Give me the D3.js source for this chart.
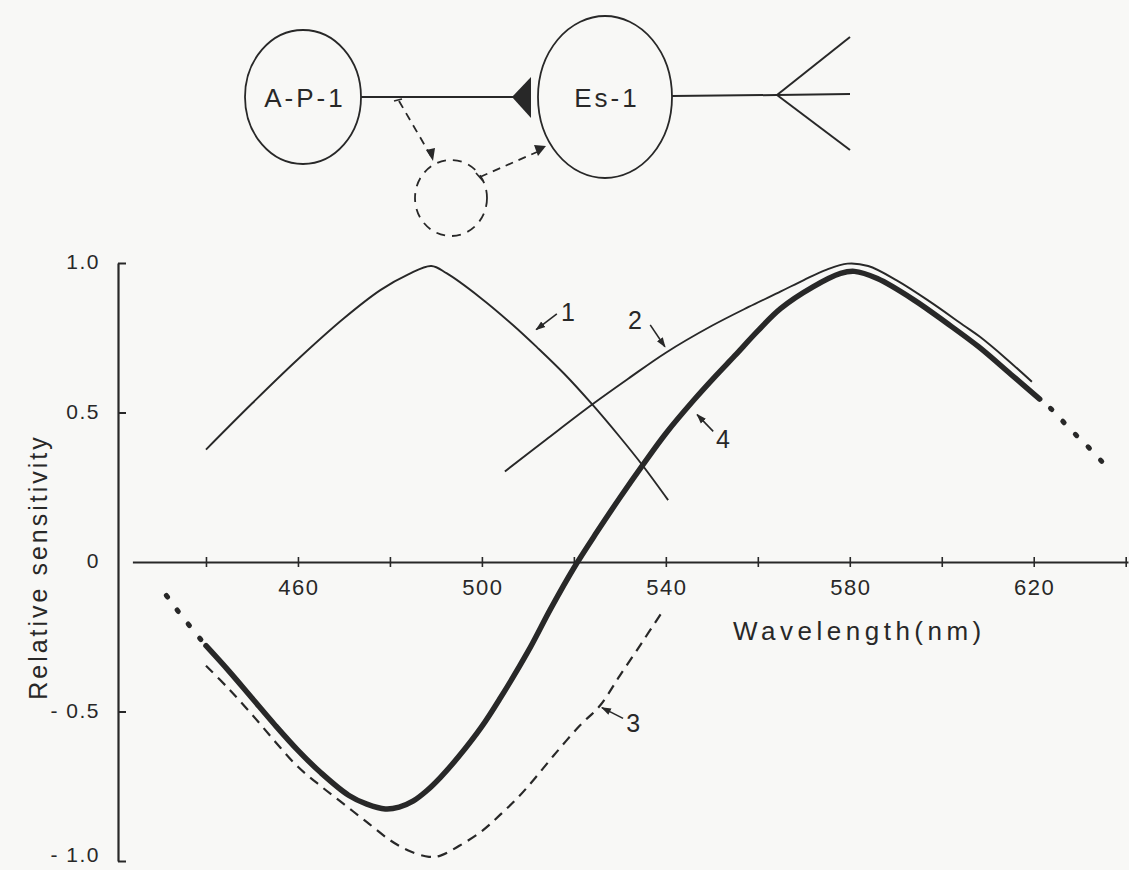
<!DOCTYPE html>
<html>
<head>
<meta charset="utf-8">
<script src="https://cdn.jsdelivr.net/npm/d3@7"></script>
<style>
  html, body { margin: 0; padding: 0; background: #f8f8f6; }
  svg { display: block; }
</style>
</head>
<body>
<svg id="fig" width="1129" height="870"></svg>
<script>
// Spectral sensitivity curves (wavelength in nm, relative sensitivity)
const curve1 = [[440,0.376],[450,0.53],[460,0.678],[470,0.815],[478,0.91],[484,0.962],[489,0.99],[492.3,0.966],[499.6,0.885],[506.8,0.792],[512,0.718],[518,0.628],[524,0.527],[530,0.418],[535,0.322],[540.5,0.207]];
const curve2 = [[505,0.303],[514,0.41],[523.9,0.526],[532,0.615],[540,0.70],[550,0.79],[558,0.853],[565,0.905],[570,0.943],[575,0.978],[579.5,0.998],[584,0.99],[590.2,0.942],[597.5,0.870],[604.7,0.792],[608.3,0.753],[614,0.68],[619.6,0.603]];
const curve3 = [[440,-0.347],[445,-0.425],[450,-0.51],[455,-0.6],[460,-0.685],[465,-0.75],[470,-0.81],[475,-0.87],[480,-0.93],[484,-0.965],[488.5,-0.986],[491,-0.982],[495,-0.95],[500,-0.9],[504,-0.845],[508,-0.785],[511.5,-0.724],[516,-0.64],[521.3,-0.547],[525.7,-0.48],[530,-0.38],[535,-0.265],[539.1,-0.169]];
const curve4 = [[440,-0.28],[445,-0.365],[450,-0.455],[455,-0.545],[460,-0.63],[465,-0.705],[471,-0.78],[475,-0.81],[479,-0.826],[482,-0.82],[485,-0.8],[488,-0.765],[491,-0.72],[495,-0.65],[500,-0.55],[504,-0.455],[510,-0.30],[515,-0.155],[520,-0.02],[525,0.1],[530,0.215],[535,0.325],[540,0.43],[546,0.54],[551,0.625],[555,0.69],[560,0.773],[565,0.848],[572,0.92],[578,0.965],[581,0.972],[586,0.948],[594,0.876],[601,0.80],[608,0.72],[615,0.628],[621.3,0.545]];
// extrapolated ends of curve 4, drawn dotted
const curve4TailLeft = [[429.6,-0.074],[434.7,-0.18],[440,-0.28]];
const curve4TailRight = [[621.3,0.545],[624,0.509],[627.2,0.456],[630.1,0.411],[632.6,0.373],[635.1,0.331]];

// axis ticks and labels
const xTickValues = [440,460,480,500,520,540,560,580,600,620,640];
const xLabelValues = [460,500,540,580,620];
const yTickValues = [1,0.5,-0.5,-1];
const yLabelValues = [1,0.5,0,-0.5,-1];
const yLabelText = ["1.0","0.5","0","- 0.5","- 1.0"];

// curve number labels with their pointer arrows (wavelength, value)
const curveLabels = [
  {text:"1", at:[518.7,0.835], from:[516.3,0.83], to:[511.8,0.777]},
  {text:"2", at:[533.3,0.81], from:[536.6,0.793], to:[539.8,0.72]},
  {text:"3", at:[532.9,-0.537], from:[530.7,-0.523], to:[526.1,-0.487]},
  {text:"4", at:[552.4,0.41], from:[550.3,0.437], to:[546.8,0.493]}
];

const FONT = "'Liberation Sans', Arial, Helvetica, sans-serif";
const INK = "#282828";

const svg = d3.select("#fig");
svg.append("rect").attr("width",1129).attr("height",870).attr("fill","#f8f8f6");

const x = d3.scaleLinear().domain([424, 640.5]).range([132.4, 1128]);
const y = d3.scaleLinear().domain([-1, 1]).range([861, 263]);

const defs = svg.append("defs");
defs.append("marker").attr("id","arrow")
  .attr("viewBox","0 0 10 10").attr("refX",9).attr("refY",5)
  .attr("markerWidth",10).attr("markerHeight",10).attr("markerUnits","userSpaceOnUse")
  .attr("orient","auto")
  .append("path").attr("d","M0,1.5 L10,5 L0,8.5 Z").attr("fill",INK);

// ---------- schematic of the neurons ----------
const net = svg.append("g").attr("stroke",INK).attr("fill","none");
net.append("ellipse").attr("cx",303).attr("cy",97).attr("rx",58).attr("ry",67).attr("stroke-width",1.8);
net.append("ellipse").attr("cx",605).attr("cy",97).attr("rx",67).attr("ry",81).attr("stroke-width",1.8);
net.append("line").attr("x1",361).attr("y1",97).attr("x2",514).attr("y2",97).attr("stroke-width",2);
net.append("path").attr("d","M512,97 L531,77 L531,118 Z").attr("fill",INK).attr("stroke","none");
net.append("line").attr("x1",672).attr("y1",96).attr("x2",777).attr("y2",95).attr("stroke-width",2);
[[850,37],[850,94],[850,150]].forEach(p => {
  net.append("line").attr("x1",777).attr("y1",95).attr("x2",p[0]).attr("y2",p[1]).attr("stroke-width",2);
});
// dashed interneuron and its connections
net.append("ellipse").attr("cx",451).attr("cy",198).attr("rx",36).attr("ry",38)
  .attr("stroke-width",1.8).attr("stroke-dasharray","9,7");
net.append("line").attr("x1",394).attr("y1",101).attr("x2",402).attr("y2",99).attr("stroke-width",1.6);
net.append("line").attr("x1",399).attr("y1",101).attr("x2",431).attr("y2",156)
  .attr("stroke-width",1.8).attr("stroke-dasharray","8,6");
net.append("path").attr("d","M426,150 L435,148 L433,161 Z").attr("fill",INK).attr("stroke","none");
net.append("line").attr("x1",476).attr("y1",173).attr("x2",483).attr("y2",181).attr("stroke-width",1.6);
net.append("line").attr("x1",480).attr("y1",177).attr("x2",537).attr("y2",152)
  .attr("stroke-width",1.8).attr("stroke-dasharray","8,6");
net.append("path").attr("d","M546,146 L534,145 L538,156 Z").attr("fill",INK).attr("stroke","none");

const netText = svg.append("g").attr("font-family",FONT).attr("fill",INK)
  .attr("font-size",26).attr("text-anchor","middle").attr("letter-spacing",3);
netText.append("text").attr("x",305).attr("y",107).text("A-P-1");
netText.append("text").attr("x",607).attr("y",107).text("Es-1");

// ---------- axes ----------
const xAxis = d3.axisBottom(x).tickValues(xTickValues).tickSizeInner(5).tickSizeOuter(0).tickFormat("");
const gx = svg.append("g").attr("transform",`translate(0,${y(0)})`).call(xAxis);
gx.select(".domain").attr("stroke",INK).attr("stroke-width",2.2);
gx.selectAll(".tick line").attr("y1",-5).attr("stroke",INK).attr("stroke-width",1.6);

svg.append("g").attr("font-family",FONT).attr("font-size",22).attr("fill",INK)
  .attr("text-anchor","middle").attr("letter-spacing",1.5)
  .selectAll("text").data(xLabelValues).join("text")
  .attr("x", d => x(d) + 1).attr("y", y(0) + 33).text(d => d);

const yAxis = d3.axisLeft(y).tickValues(yTickValues).tickSizeInner(-8).tickSizeOuter(0).tickFormat("");
const gy = svg.append("g").attr("transform","translate(118,0)").call(yAxis);
gy.select(".domain").attr("stroke",INK).attr("stroke-width",2.2);
gy.selectAll(".tick line").attr("stroke",INK).attr("stroke-width",2);

// tick labels sit centred on their tick; the lowest one is kept inside the frame
svg.append("g").attr("font-family",FONT).attr("font-size",21).attr("fill",INK)
  .attr("text-anchor","end").attr("letter-spacing",1.5)
  .selectAll("text").data(yLabelValues).join("text")
  .attr("x", 100).attr("y", d => Math.min(y(d) + 6, 862))
  .text((d,i) => yLabelText[i]);

svg.append("text").attr("font-family",FONT).attr("font-size",26).attr("fill",INK)
  .attr("letter-spacing",4.5).attr("x",733).attr("y",640).text("Wavelength(nm)");

svg.append("text").attr("font-family",FONT).attr("font-size",25).attr("fill",INK)
  .attr("letter-spacing",3).attr("text-anchor","middle")
  .attr("transform","translate(47,567) rotate(-90)").text("Relative sensitivity");

// ---------- curves ----------
const line = d3.line().x(d => x(d[0])).y(d => y(d[1])).curve(d3.curveCatmullRom.alpha(0.5));
const plot = svg.append("g").attr("fill","none").attr("stroke",INK).attr("stroke-linejoin","round");

plot.append("path").datum(curve1).attr("d",line).attr("stroke-width",1.9);
plot.append("path").datum(curve2).attr("d",line).attr("stroke-width",1.9);
plot.append("path").datum(curve3).attr("d",line).attr("stroke-width",2.2).attr("stroke-dasharray","10,7");
plot.append("path").datum(curve4).attr("d",line).attr("stroke-width",5.5).attr("stroke-linecap","round");
[curve4TailLeft, curve4TailRight].forEach(t => {
  plot.append("path").datum(t).attr("d",line).attr("stroke-width",5)
    .attr("stroke-linecap","round").attr("stroke-dasharray","2,16").attr("stroke-dashoffset",-14);
});

// ---------- curve labels ----------
const lab = svg.append("g").attr("font-family",FONT).attr("font-size",25).attr("fill",INK).attr("text-anchor","middle");
curveLabels.forEach(c => {
  lab.append("text").attr("x",x(c.at[0])).attr("y",y(c.at[1])).attr("dy","0.36em").text(c.text);
  svg.append("line")
    .attr("x1",x(c.from[0])).attr("y1",y(c.from[1]))
    .attr("x2",x(c.to[0])).attr("y2",y(c.to[1]))
    .attr("stroke",INK).attr("stroke-width",1.6).attr("marker-end","url(#arrow)");
});
</script>
</body>
</html>
